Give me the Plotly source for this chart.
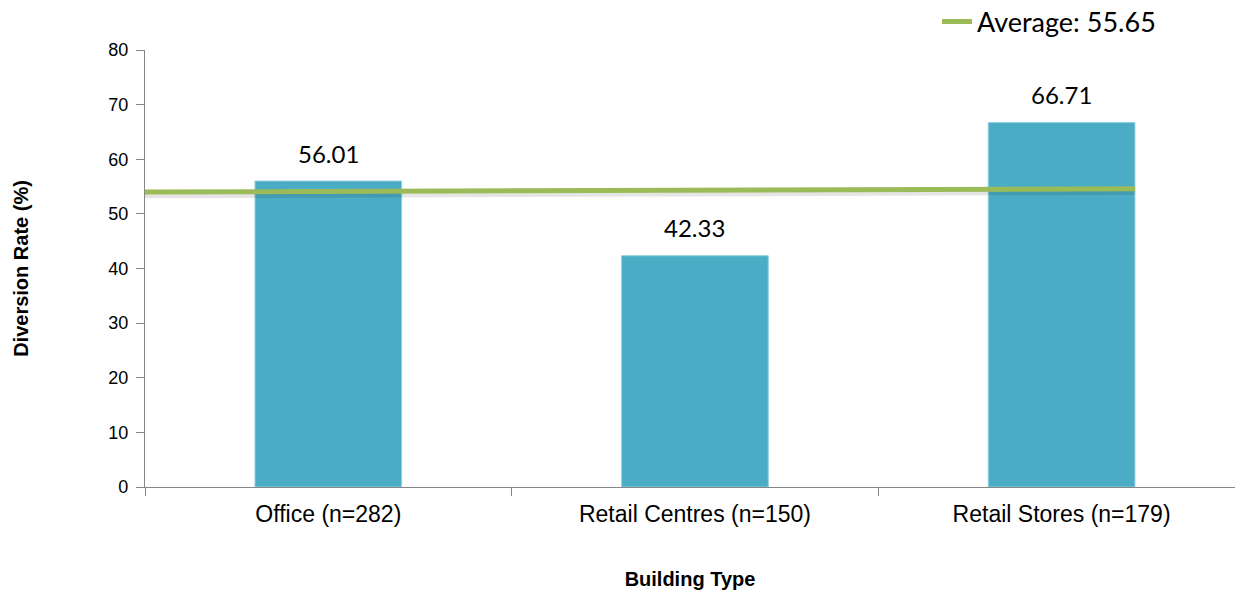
import plotly.graph_objects as go

categories = ["Office (n=282)", "Retail Centres (n=150)", "Retail Stores (n=179)"]
diversion_rate = [56.01, 42.33, 66.71]
label_text = ["56.01", "42.33", "66.71"]
avg_label = "Average: 55.65"
avg_line_x = [-0.5, 2.2]
avg_line_y = [54.0, 54.6]
y_ticks = [0, 10, 20, 30, 40, 50, 60, 70, 80]

BAR = "#4BACC6"
GREEN = "#9BBB59"
AXIS = "#868686"

fig = go.Figure()
fig.add_trace(go.Bar(
    x=categories, y=diversion_rate, width=0.4,
    marker=dict(color=BAR, line=dict(color="#8CCFE0", width=1)),
    showlegend=False, hoverinfo="skip",
))
# soft shadow of the average line
fig.add_trace(go.Scatter(
    x=avg_line_x, y=[v - 0.5 for v in avg_line_y], xaxis="x2", mode="lines",
    line=dict(color="rgba(0,0,0,0.10)", width=7), showlegend=False, hoverinfo="skip",
))
fig.add_trace(go.Scatter(
    x=avg_line_x, y=avg_line_y, xaxis="x2", mode="lines",
    line=dict(color=GREEN, width=5), name=avg_label, showlegend=True,
))

for c, v, t in zip(categories, diversion_rate, label_text):
    fig.add_annotation(x=c, y=v, text=t, showarrow=False, yshift=28,
                       font=dict(family="Lato, Open Sans, sans-serif", size=24, color="#000"))

fig.update_layout(
    width=1235, height=590,
    margin=dict(l=145, r=0, t=50, b=103, autoexpand=False),
    plot_bgcolor="white", paper_bgcolor="white",
    font=dict(family="Liberation Sans, Arial, sans-serif", color="#000"),
    xaxis=dict(
        type="category", range=[-0.5, 2.473], tickson="boundaries",
        ticks="outside", ticklen=8, tickcolor=AXIS, tickwidth=1.3,
        showline=True, linecolor=AXIS, linewidth=1.3, showgrid=False,
        tickfont=dict(size=23), zeroline=False, ticklabelstandoff=6,
        title=dict(text="<b>Building Type</b>", font=dict(size=20), standoff=47),
    ),
    xaxis2=dict(overlaying="x", range=[-0.5, 2.473], visible=False),
    yaxis=dict(
        range=[0, 80], tickvals=y_ticks, ticks="outside", ticklen=8,
        tickcolor=AXIS, tickwidth=1.3, showline=True, linecolor=AXIS, linewidth=1.3,
        showgrid=False, zeroline=False, tickfont=dict(size=18), ticklabelstandoff=4,
        title=dict(text="<b>Diversion Rate (%)</b>", font=dict(size=20), standoff=74),
    ),
    legend=dict(xref="container", yref="container", x=0.7587, y=0.9627,
                xanchor="left", yanchor="middle",
                font=dict(family="Lato, Open Sans, sans-serif", size=27),
                bgcolor="rgba(0,0,0,0)"),
)

fig.write_html("out.html")
